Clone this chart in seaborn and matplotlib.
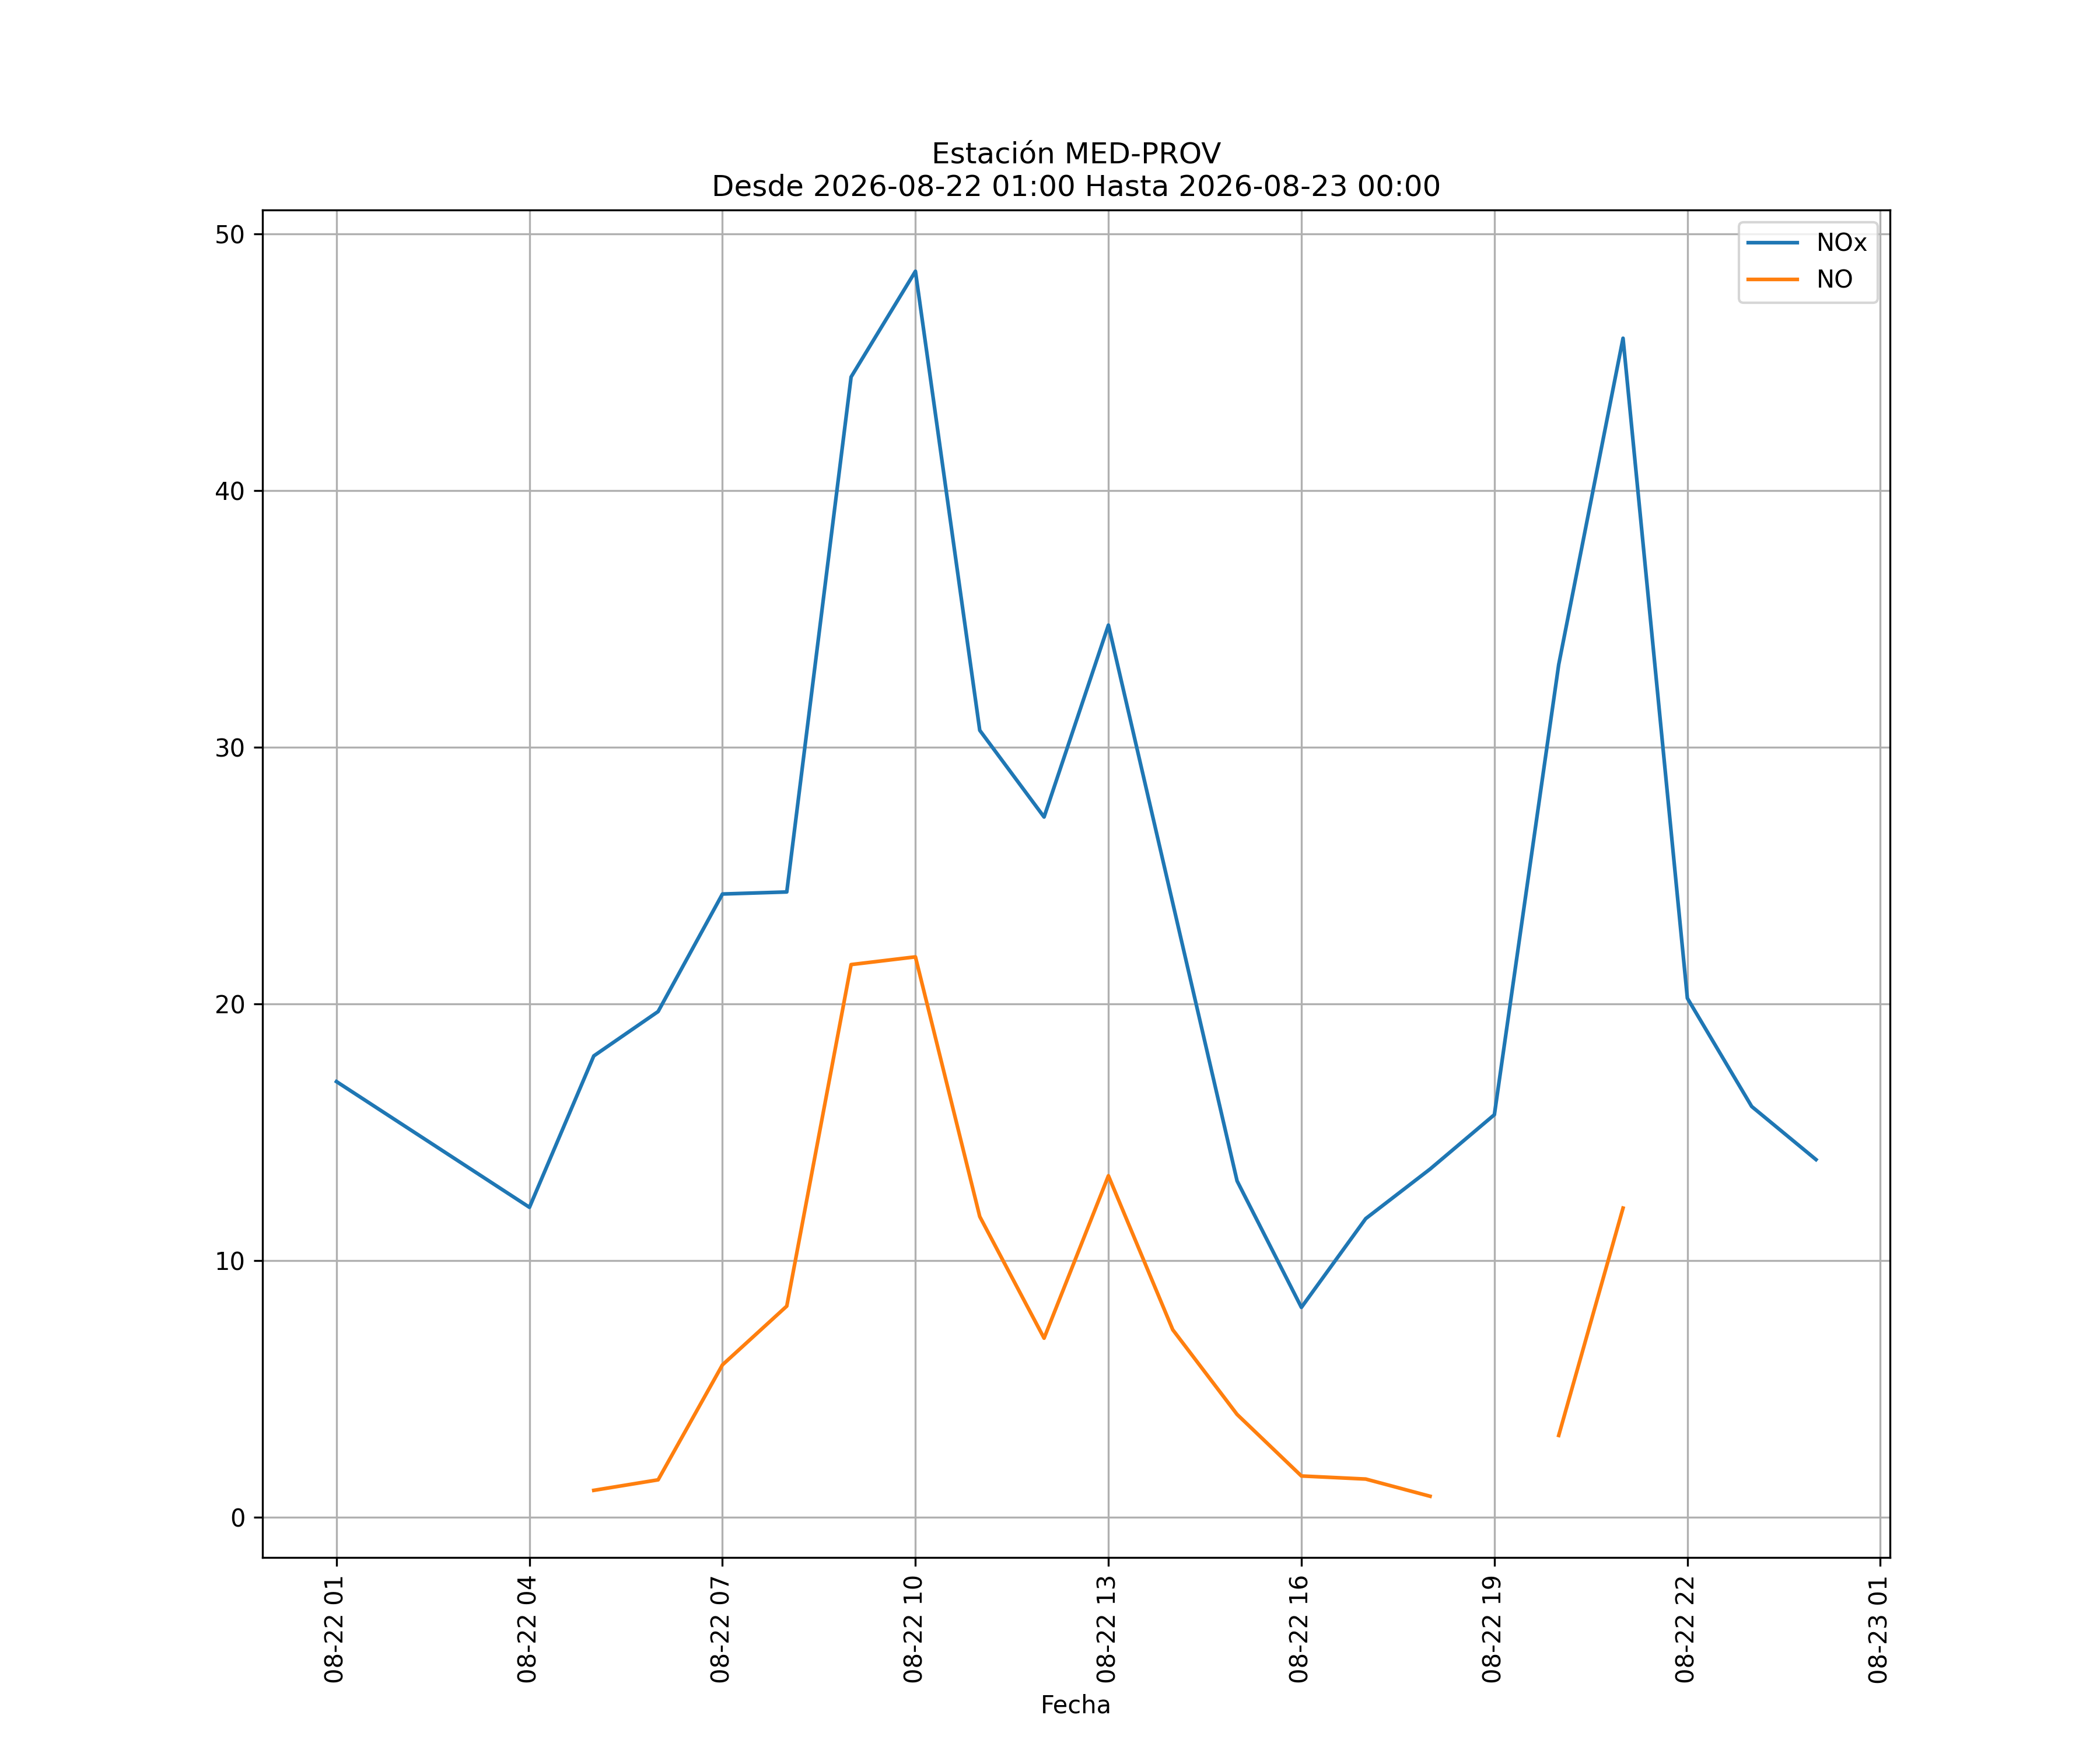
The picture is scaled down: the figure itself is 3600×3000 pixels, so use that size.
import matplotlib
matplotlib.use('Agg')
import pandas as pd
import matplotlib.pyplot as plt
import matplotlib.dates as mdates
import seaborn as sns

# === DATOS ===
ESTACION = "MED-PROV"
INICIO = "2026-08-22 01:00"
FIN = "2026-08-23 00:00"

# horas desde 2026-08-22 00:00 (24 = 2026-08-23 00:00)
horas_nox = [1, 4, 5, 6, 7, 8, 9, 10, 11, 12, 13, 15, 16, 17, 18, 19, 20, 21, 22, 23, 24]
nox = [16.97, 12.07, 17.97, 19.7, 24.28, 24.36, 44.43, 48.55, 30.66, 27.28, 34.76,
       13.1, 8.17, 11.63, 13.56, 15.68, 33.22, 45.94, 20.22, 16.0, 13.93]

horas_no = [5, 6, 7, 8, 9, 10, 11, 12, 13, 14, 15, 16, 17, 18, 20, 21]
no = [1.04, 1.45, 5.93, 8.22, 21.53, 21.83, 11.71, 6.97, 13.3, 7.3, 4.0, 1.6, 1.48, 0.81,
      3.18, 12.04]
tramo_no = [1] * 14 + [2] * 2  # hueco a las 19:00

# === TABLA LARGA ===
base = pd.Timestamp("2026-08-22 00:00")
df_nox = pd.DataFrame({
    "fecha": base + pd.to_timedelta(horas_nox, unit="h"),
    "valor": nox,
    "serie": "NOx",
    "tramo": 0,
})
df_no = pd.DataFrame({
    "fecha": base + pd.to_timedelta(horas_no, unit="h"),
    "valor": no,
    "serie": "NO",
    "tramo": tramo_no,
})
df = pd.concat([df_nox, df_no], ignore_index=True)

# === GRÁFICO ===
fig, ax = plt.subplots(figsize=(12, 10), dpi=300)
sns.lineplot(data=df, x="fecha", y="valor", hue="serie", units="tramo",
             estimator=None, hue_order=["NOx", "NO"],
             palette={"NOx": "#1f77b4", "NO": "#ff7f0e"}, linewidth=1.5, ax=ax)

ax.set_title(f"Estación {ESTACION}\nDesde {INICIO} Hasta {FIN}")
ax.set_xlabel("Fecha")
ax.set_ylabel("")
ax.xaxis.set_major_locator(mdates.HourLocator(byhour=range(1, 24, 3)))
ax.xaxis.set_major_formatter(mdates.DateFormatter("%m-%d %H"))
ax.tick_params(axis="x", labelrotation=90)
ax.grid(True)
sns.move_legend(ax, "upper right", title=None)

plt.savefig("out.png", dpi=300)
